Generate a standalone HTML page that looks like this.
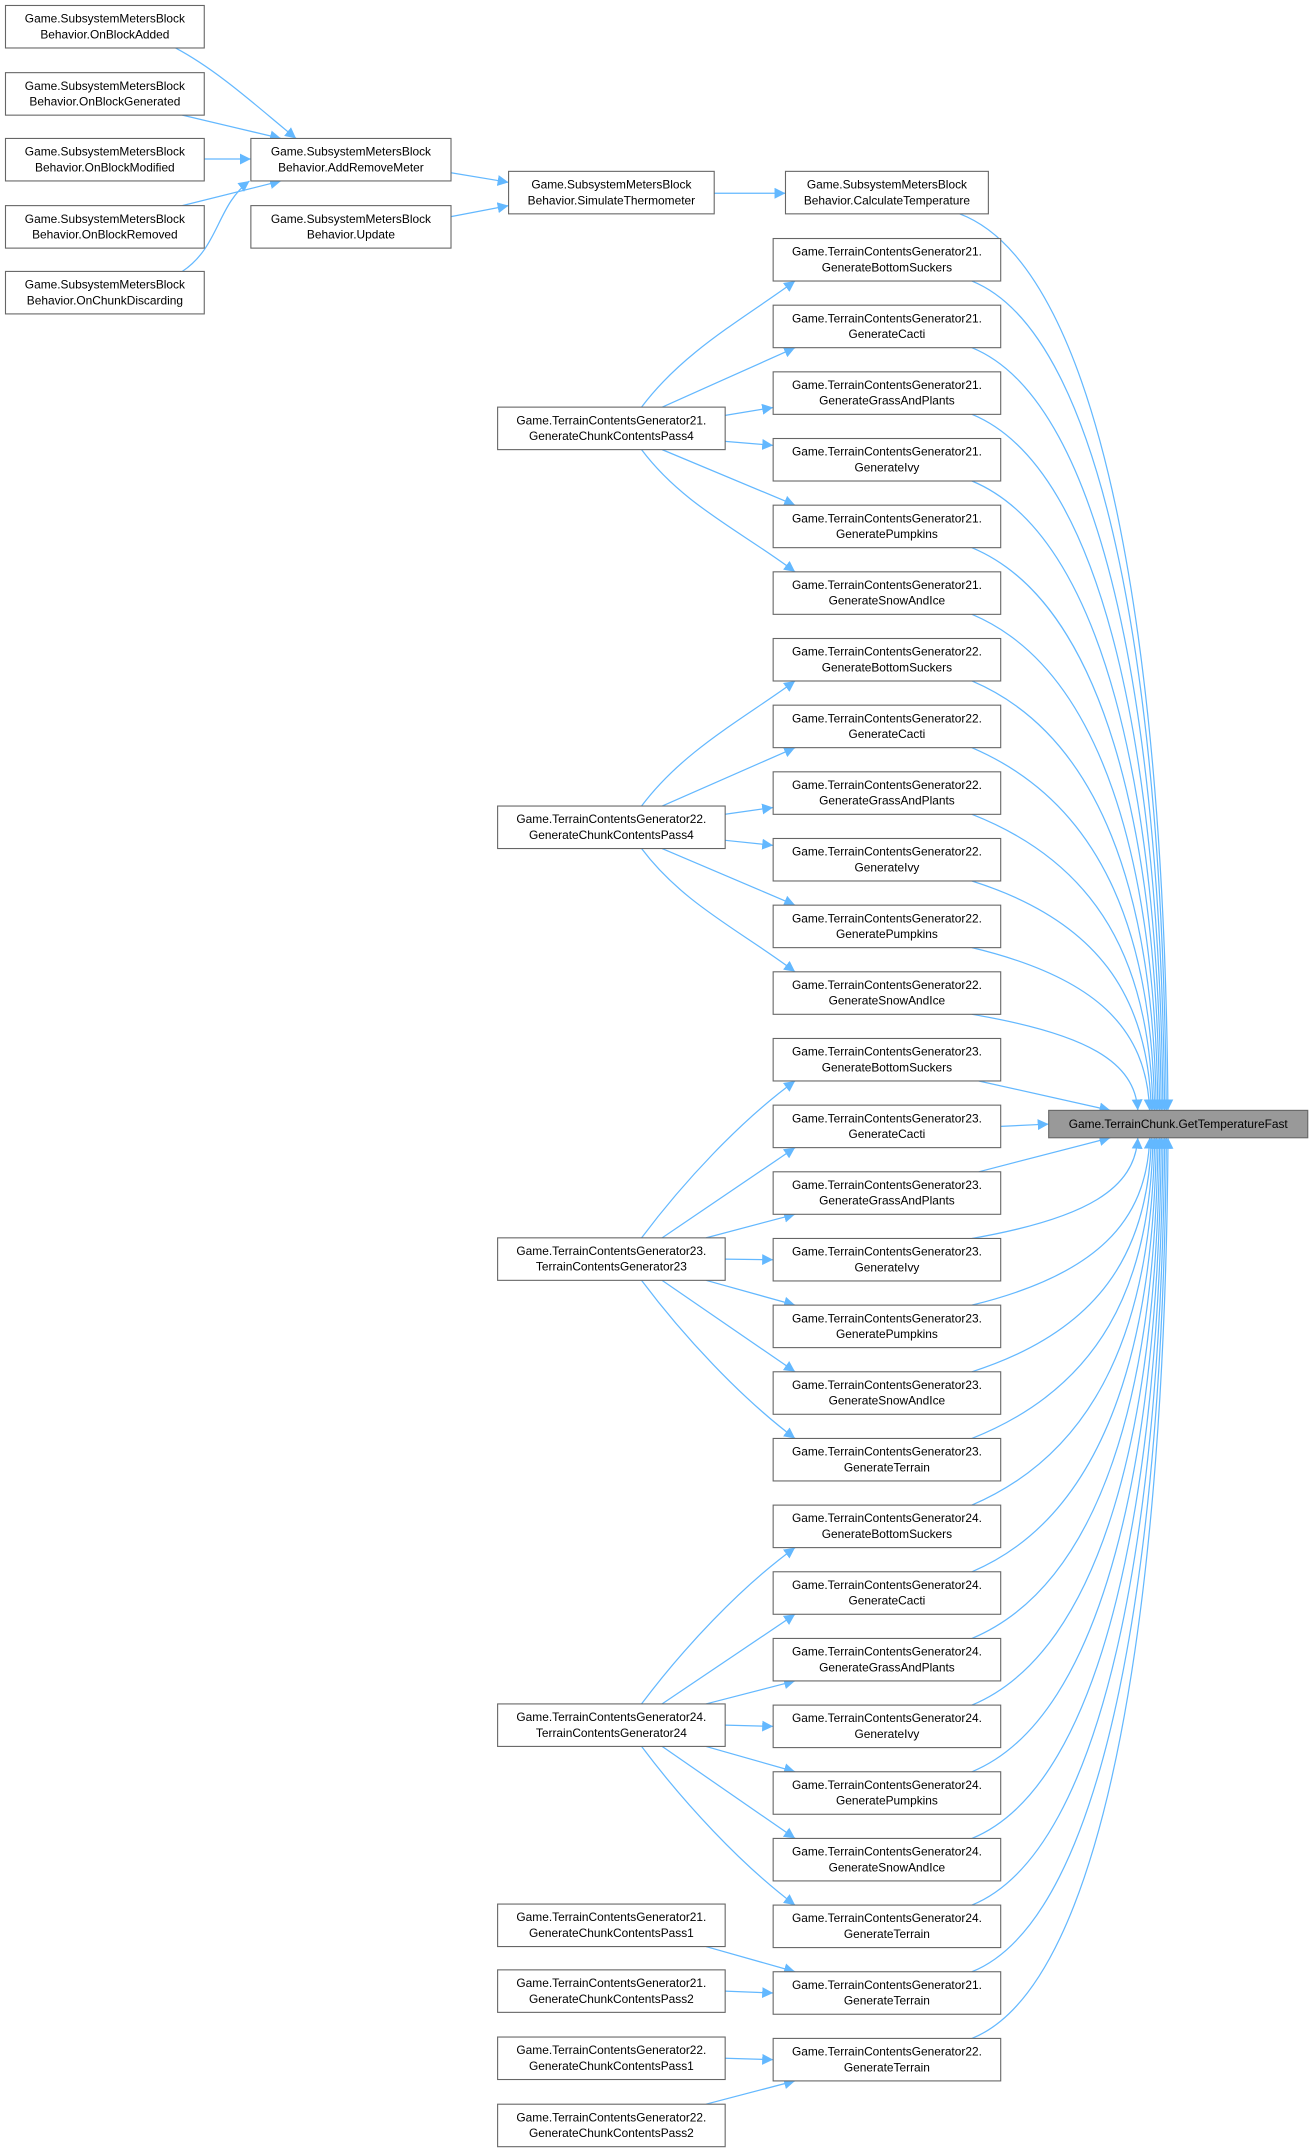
<!DOCTYPE html>
<html><head><meta charset="utf-8"><style>
html,body{margin:0;padding:0;background:#fff;}
svg{display:block;}
text{font-family:"Liberation Sans",Arial,sans-serif;font-size:8.7px;fill:#000;}
</style></head><body>
<svg id="s" width="1316" height="2153" viewBox="0 0 960 1570.6" xmlns="http://www.w3.org/2000/svg">
<defs><marker id="a" viewBox="0 0 10 10" refX="10" refY="5" markerWidth="8" markerHeight="8" orient="auto" markerUnits="userSpaceOnUse"><path d="M0,0 L10,5 L0,10 z" fill="#63b8ff"/></marker></defs>
<g id="e" fill="none" stroke="#63b8ff" stroke-width="0.9"></g>
<g id="n"></g>
</svg>
<script>
var NS="http://www.w3.org/2000/svg",E=document.getElementById('e'),N=document.getElementById('n');
function box(x,y,w,h,l1,l2,fill){var r=document.createElementNS(NS,'rect');r.setAttribute('x',x);r.setAttribute('y',y);r.setAttribute('width',w);r.setAttribute('height',h);r.setAttribute('fill',fill||'#fff');r.setAttribute('stroke','#666');r.setAttribute('stroke-width','0.8');N.appendChild(r);
var ls=l2?[l1,l2]:[l1];ls.forEach(function(t,i){var tx=document.createElementNS(NS,'text');tx.setAttribute('x',x+w/2);tx.setAttribute('y',l2?y+12.5+i*11.5:y+h/2+3);tx.setAttribute('text-anchor','middle');tx.textContent=t;N.appendChild(tx);});}
function path(d){var p=document.createElementNS(NS,'path');p.setAttribute('d',d);p.setAttribute('marker-end','url(#a)');E.appendChild(p);}
var SB='Game.SubsystemMetersBlock';
var c1=[['Behavior.OnBlockAdded',4],['Behavior.OnBlockGenerated',53],['Behavior.OnBlockModified',101],['Behavior.OnBlockRemoved',150],['Behavior.OnChunkDiscarding',198]];
c1.forEach(function(c){box(4,c[1],145,31,SB,c[0]);});
box(183,101,146,31,SB,'Behavior.AddRemoveMeter');
box(183,150,146,31,SB,'Behavior.Update');
box(371,125,150,31,SB,'Behavior.SimulateThermometer');
box(573,125,148,31,SB,'Behavior.CalculateTemperature');
path('M128,35 C160,52 190,80 216,101');
path('M133,84 L205,101');
path('M149,116 L183,116');
path('M133,150 L205,132');
path('M133,198 C160,180 158,150 182,132');
path('M329,126 L371,133');
path('M329,158 L371,150');
path('M521,141 L573,141');
var M=['GenerateBottomSuckers','GenerateCacti','GenerateGrassAndPlants','GenerateIvy','GeneratePumpkins','GenerateSnowAndIce'];
var c3=[];
M.forEach(function(m){c3.push(['Game.TerrainContentsGenerator21.',m,0]);});
M.forEach(function(m){c3.push(['Game.TerrainContentsGenerator22.',m,1]);});
M.concat(['GenerateTerrain']).forEach(function(m){c3.push(['Game.TerrainContentsGenerator23.',m,2]);});
M.concat(['GenerateTerrain']).forEach(function(m){c3.push(['Game.TerrainContentsGenerator24.',m,3]);});
c3.push(['Game.TerrainContentsGenerator21.','GenerateTerrain',4]);
c3.push(['Game.TerrainContentsGenerator22.','GenerateTerrain',5]);
var ys=[];for(var i=0;i<28;i++)ys.push(174+i*48.63);
var L=[{y:297,t:['Game.TerrainContentsGenerator21.','GenerateChunkContentsPass4']},{y:588,t:['Game.TerrainContentsGenerator22.','GenerateChunkContentsPass4']},{y:903,t:['Game.TerrainContentsGenerator23.','TerrainContentsGenerator23']},{y:1243,t:['Game.TerrainContentsGenerator24.','TerrainContentsGenerator24']}];
L.forEach(function(l){box(363,l.y,166,31,l.t[0],l.t[1]);});
var P=[[1389,'Game.TerrainContentsGenerator21.','GenerateChunkContentsPass1',26],[1437,'Game.TerrainContentsGenerator21.','GenerateChunkContentsPass2',26],[1486,'Game.TerrainContentsGenerator22.','GenerateChunkContentsPass1',27],[1535,'Game.TerrainContentsGenerator22.','GenerateChunkContentsPass2',27]];
P.forEach(function(p){box(363,p[0],166,31,p[1],p[2]);});
function srcEdge(sy,ty){
  var sc=sy+15.5,tc=ty+15.5,dy=tc-sc;
  if(Math.abs(dy)<5){path('M529,'+sc+' L564,'+tc);return;}
  if(Math.abs(dy)<30){ if(dy<0)path('M529,'+(sy+6)+' L564,'+(ty+26)); else path('M529,'+(sy+25)+' L564,'+(ty+5)); return;}
  if(Math.abs(dy)<60){ if(dy<0)path('M515,'+sy+' L580,'+(ty+31)); else path('M515,'+(sy+31)+' L580,'+ty); return;}
  if(Math.abs(dy)<110){ if(dy<0)path('M483,'+sy+' L580,'+(ty+31)); else path('M483,'+(sy+31)+' L580,'+ty); return;}
  var x0=Math.abs(dy)<160?468:460;
  if(dy<0)path('M'+x0+','+sy+' C'+(x0+30)+','+(sy-40)+' '+(540)+','+(ty+60)+' 580,'+(ty+31));
  else path('M'+x0+','+(sy+31)+' C'+(x0+30)+','+(sy+71)+' 540,'+(ty-30)+' 580,'+ty);
}
var groupStart=[0,6,12,19];
for(var g=0;g<4;g++){var n=(g<2)?6:7;for(var k=0;k<n;k++)srcEdge(L[g].y,ys[groupStart[g]+k]);}
P.forEach(function(p){srcEdge(p[0],ys[p[3]]);});
var TX=765,TY=810,TW=189,TH=20;
function tgt(sx,sy0,h){var sc=sy0+h/2,tc=TY+TH/2,dy=tc-sc;
  if(Math.abs(dy)<6){path('M'+(sx+166)+','+sc+' L'+TX+','+tc);return;}
  var ad=Math.abs(dy);var ex=ad<60?810:(ad<110?830:Math.min(856,835+ad/40));
  var stx=sx+(ad<60?150:145);
  if(dy>0){var sy=sy0+h,ey=TY;
    if(ad<60){path('M'+stx+','+sy+' L'+ex+','+ey);return;}
    path('M'+stx+','+sy+' C'+(stx+(ex-stx)*0.7)+','+(sy+Math.min(40,ad*0.15))+' '+(ex-2)+','+(sy+(ey-sy)*0.5)+' '+ex+','+ey);}
  else{var sy=sy0,ey=TY+TH;
    if(ad<60){path('M'+stx+','+sy+' L'+ex+','+ey);return;}
    path('M'+stx+','+sy+' C'+(stx+(ex-stx)*0.7)+','+(sy-Math.min(40,ad*0.15))+' '+(ex-2)+','+(sy+(ey-sy)*0.5)+' '+ex+','+ey);}
}
tgt(573-18,125,31);
for(var i=0;i<28;i++)tgt(564,ys[i],31);
c3.forEach(function(c,i){box(564,ys[i],166,31,c[0],c[1]);});
box(TX,TY,TW,TH,'Game.TerrainChunk.GetTemperatureFast',null,'#999');
</script>
</body></html>
